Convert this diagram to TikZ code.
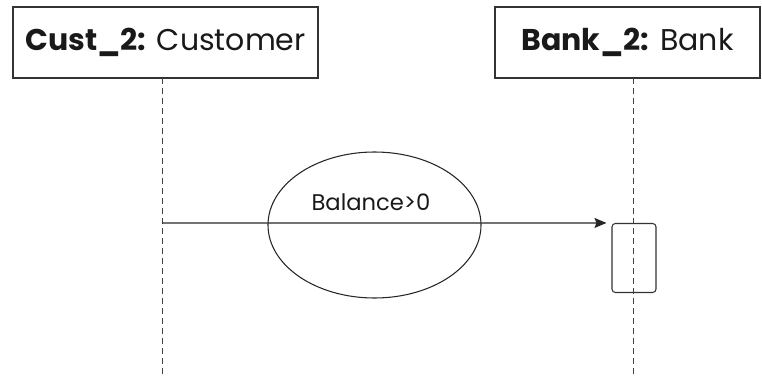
\documentclass[tikz,border=0pt]{standalone}
\usepackage{fontspec}
\setmainfont{Poppins}
\usetikzlibrary{shapes.geometric,arrows.meta}

\begin{document}
\begin{tikzpicture}[x=0.75pt,y=-0.75pt,
	objbox/.style={draw=black!80, line width=0.9pt, minimum height=53.25pt, inner sep=0pt,
		text=black!90, font=\fontsize{22.5}{27}\selectfont},
	lifeline/.style={draw=black!75, line width=0.6pt, dash pattern=on 4.5pt off 3pt},
	actbox/.style={draw=black!80, line width=0.8pt, rounded corners=2.5pt,
		minimum width=33pt, minimum height=51.75pt, inner sep=0pt},
	msg/.style={draw=black!85, line width=0.8pt, -{Stealth[length=9pt,width=7.5pt,inset=1.5pt]}},
	guardshape/.style={ellipse, draw=black!85, line width=0.8pt, minimum width=159.75pt,
		minimum height=109.5pt, inner sep=0pt}]

	\useasboundingbox (0,0) rectangle (762,378);

	%objects
	\node[objbox, minimum width=228.75pt] (cust) at (165.5,42.5) {\textbf{Cust\_2:} Customer};
	\node[objbox, minimum width=198.75pt] (bank) at (627.5,42.5) {\textbf{Bank\_2:} Bank};

	%lifelines
	\coordinate (custtop) at (162,78);
	\coordinate (custend) at (162,378);
	\coordinate (banktop) at (633,78);
	\coordinate (bankend) at (633,378);
	\draw[lifeline] (custtop) -- (custend);
	\draw[lifeline] (banktop) -- (bankend);

	%activation
	\node[actbox] (act) at (634,258) {};

	%guard condition
	\node[guardshape] (guard) at (374.5,225) {};
	\node[text=black!90, font=\fontsize{17}{20}\selectfont] (cond) at (371,202) {Balance>0};

	%message
	\coordinate (msgstart) at (162,223);
	\draw[msg] (msgstart) -- ([xshift=-3.75pt]act.north west);

\end{tikzpicture}
\end{document}
